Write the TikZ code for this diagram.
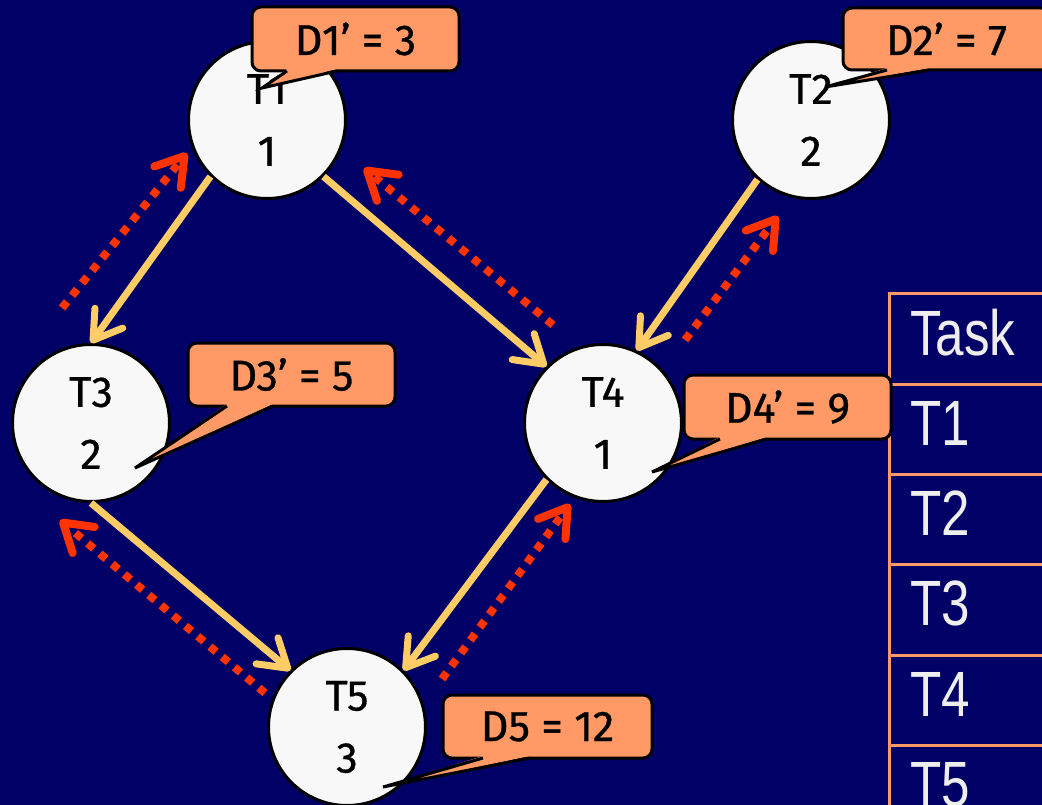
\documentclass[tikz,border=0pt]{standalone}
\usepackage{fontspec}
\setmainfont[UprightFeatures={FakeBold=0.7}]{Fira Sans}
\newfontfamily\tabfont[FakeStretch=0.8]{Liberation Sans}
\usetikzlibrary{arrows.meta}
\definecolor{bgnavy}{HTML}{000066}
\definecolor{circfill}{HTML}{F8F8F8}
\definecolor{yel}{HTML}{FFCC66}
\definecolor{redd}{HTML}{FF3300}
\definecolor{callfill}{HTML}{FF9966}
\definecolor{tabline}{HTML}{FF9966}
\definecolor{tabtext}{HTML}{EEEEEE}
\tikzset{
  task/.style={circle, draw=black, line width=3pt, fill=circfill, minimum size=157pt,
    inner sep=0pt, align=center, font=\fontsize{43}{62}\selectfont},
  yarrow/.style={draw=yel, line width=7pt, -{Straight Barb[length=27pt,width=34pt,round]}},
  rarrow/.style={draw=redd, line width=8pt, dash pattern=on 8pt off 8pt,
    -{Straight Barb[length=27pt,width=34pt,round]}},
  callbox/.style={draw=black, line width=3pt, fill=callfill, rounded corners=9pt},
  calltext/.style={inner sep=0pt, font=\fontsize{43}{50}\selectfont, text=black},
  tabrule/.style={draw=tabline, line width=3pt},
  tabcell/.style={anchor=base west, inner sep=0pt, text=tabtext, font=\tabfont\fontsize{64}{70}\selectfont}
}
% name, x1, y1, x2, y2, base1, base2, tip, text
\newcommand\mycallout[9]{%
  \draw[callbox] (#2,#3) rectangle (#4,#5);
  \fill[callfill] (#6,#5-2) -- (#8) -- (#7,#5-2) -- cycle;
  \draw[black, line width=3pt] (#6,#5) -- (#8) -- (#7,#5);
  \node[calltext] (#1) at ({(#2+#4)/2},{(#3+#5)/2}) {#9};
}
\begin{document}
\begin{tikzpicture}[x=1pt, y=-1pt]
\useasboundingbox (0,0) rectangle (1042,805);
\fill[bgnavy] (-5,-5) rectangle (1047,810);

% tasks
\node[task] (T1) at (267,120) {T1\\1};
\node[task] (T2) at (811,120) {T2\\2};
\node[task] (T3) at (91,423) {T3\\2};
\node[task] (T4) at (603,423) {T4\\1};
\node[task] (T5) at (347,727) {T5\\3};

% precedence arrows
\draw[yarrow] (T1.225) -- (T3.north);
\draw[yarrow] (T1.-45) -- (T4.135);
\draw[yarrow] (T2.228) -- (T4.65);
\draw[yarrow] (T3.south) -- (T5.135);
\draw[yarrow] (T4.225) -- (T5.45);

% backward (deadline) arrows
\coordinate (r1s) at (62,308);  \coordinate (r1e) at (187,153);
\coordinate (r2s) at (553,325); \coordinate (r2e) at (364,168);
\coordinate (r3s) at (685,340); \coordinate (r3e) at (778,216);
\coordinate (r4s) at (265,693); \coordinate (r4e) at (60,520);
\coordinate (r5s) at (442,679); \coordinate (r5e) at (570,504);
\draw[rarrow] (r1s) -- (r1e);
\draw[rarrow] (r2s) -- (r2e);
\draw[rarrow] (r3s) -- (r3e);
\draw[rarrow] (r4s) -- (r4e);
\draw[rarrow] (r5s) -- (r5e);

% table
\draw[tabrule] (889,815) -- (889,294) -- (1050,294);
\foreach \yy in {384,474,564,655,745} {\draw[tabrule] (889,\yy) -- (1050,\yy);}
\node[tabcell] (tk) at (910,355) {Task};
\node[tabcell] (t1) at (910,445) {T1};
\node[tabcell] (t2) at (910,535) {T2};
\node[tabcell] (t3) at (910,625) {T3};
\node[tabcell] (t4) at (910,716) {T4};
\node[tabcell] (t5) at (910,806) {T5};

% callouts
\mycallout{c1}{252}{7}{459}{71}{287}{337}{262,88}{D1’ = 3}
\mycallout{c2}{843}{8}{1050}{70}{887}{930}{825,87}{D2’ = 7}
\mycallout{c3}{188}{343}{395}{406}{227}{273}{135,468}{D3’ = 5}
\mycallout{c4}{684}{375}{891}{439}{720}{767}{652,472}{D4’ = 9}
\mycallout{c5}{443}{695}{652}{758}{483}{530}{383,787}{D5 = 12}
\end{tikzpicture}
\end{document}
